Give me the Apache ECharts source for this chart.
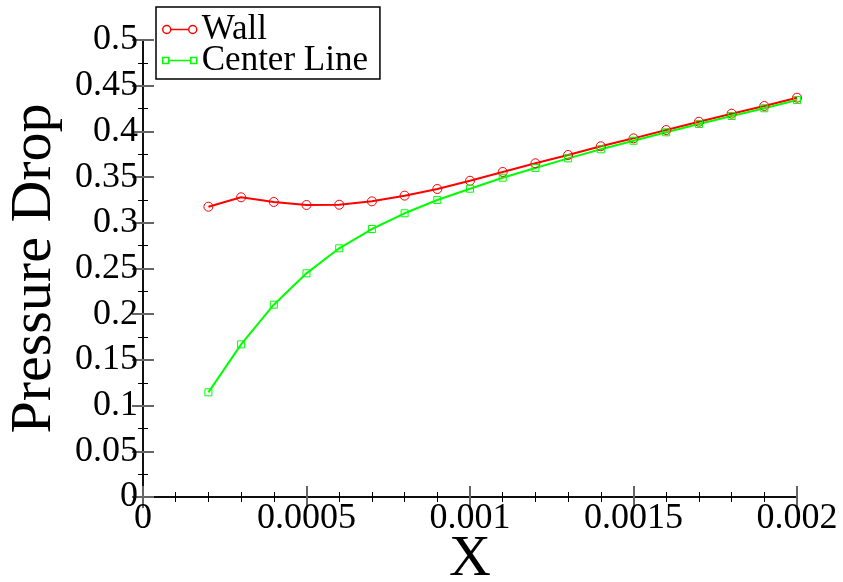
<!DOCTYPE html>
<html>
<head>
<meta charset="utf-8">
<script src="https://cdn.jsdelivr.net/npm/echarts@6/dist/echarts.min.js"></script>
<style>
html, body { margin: 0; padding: 0; background: #fff; }
#chart { width: 843px; height: 582px; }
</style>
</head>
<body>
<div id="chart"></div>
<script>
var xs = [0.0002, 0.0003, 0.0004, 0.0005, 0.0006, 0.0007, 0.0008, 0.0009, 0.0010,
	0.0011, 0.0012, 0.0013, 0.0014, 0.0015, 0.0016, 0.0017, 0.0018, 0.0019, 0.0020];
var wall = [0.3176, 0.3279, 0.3228, 0.3195, 0.3198, 0.3235, 0.3297, 0.337, 0.346,
	0.3556, 0.3651, 0.3742, 0.3837, 0.3924, 0.4015, 0.4106, 0.4194, 0.4278, 0.4369];
var center = [0.1145, 0.167, 0.2104, 0.2447, 0.2721, 0.2932, 0.3104, 0.325, 0.3373,
	0.3493, 0.36, 0.3705, 0.3804, 0.3898, 0.399, 0.4081, 0.4168, 0.4253, 0.4344];

function pairs(a) {
	return xs.map(function(x, i) { return [x, a[i]]; });
}

var font = '"Liberation Serif", "DejaVu Serif", serif';
var tickStyle = { color: '#666', width: 2 };
var minorStyle = { color: '#000', width: 1 };

function frameAxis(extra) {
	var base = {
		type: 'value',
		axisLine: { show: true, lineStyle: { color: '#000', width: 1.5 } },
		axisTick: { show: true, inside: true, length: 11, lineStyle: tickStyle },
		splitLine: { show: false },
		axisLabel: { show: false }
	};
	return Object.assign(base, extra);
}

var chart = echarts.init(document.getElementById('chart'));
chart.setOption({
	animation: false,
	backgroundColor: '#fff',
	textStyle: { fontFamily: font },
	grid: { left: 143, right: 46, top: 40, bottom: 85, outerBoundsMode: 'none', containLabel: false },
	legend: {
		orient: 'vertical',
		left: 156, top: 7,
		padding: [5, 12, 1, 6],
		itemGap: -4,
		itemWidth: 34, itemHeight: 8,
		backgroundColor: '#fff',
		borderColor: '#000', borderWidth: 1.5,
		textStyle: { fontFamily: font, fontSize: 35, color: '#000' },
		data: [
			{ name: 'Wall', icon: 'path://M0,4a4,4 0 1,0 8,0a4,4 0 1,0 -8,0M8,4L26,4M26,4a4,4 0 1,0 8,0a4,4 0 1,0 -8,0',
				itemStyle: { color: 'transparent', borderColor: '#ff0000', borderWidth: 1.5 } },
			{ name: 'Center Line', icon: 'path://M0,1L6,1L6,7L0,7ZM6,4L28,4M28,1L34,1L34,7L28,7Z',
				itemStyle: { color: 'transparent', borderColor: '#00ff00', borderWidth: 1.5 } }
		]
	},
	xAxis: [
		frameAxis({
			min: 0, max: 0.002, interval: 0.0005,
			name: 'X', nameLocation: 'middle', nameGap: 34, nameMoveOverlap: false,
			nameTextStyle: { fontFamily: font, fontSize: 58, color: '#000' },
			minorTick: { show: true, splitNumber: 5, length: 5, lineStyle: minorStyle },
			axisLabel: { show: true, margin: 4, fontFamily: font, fontSize: 36, color: '#000' }
		}),
		frameAxis({
			min: 0, max: 0.002, interval: 0.0005, position: 'top',
			minorTick: { show: true, splitNumber: 5, length: 5, lineStyle: minorStyle }
		})
	],
	yAxis: [
		frameAxis({
			min: 0, max: 0.5, interval: 0.05,
			name: 'Pressure Drop', nameLocation: 'middle', nameGap: 79, nameMoveOverlap: false,
			nameTextStyle: { fontFamily: font, fontSize: 58, color: '#000' },
			minorTick: { show: true, splitNumber: 2, length: 5, lineStyle: minorStyle },
			axisLabel: { show: true, margin: 5, fontFamily: font, fontSize: 36, color: '#000' }
		}),
		frameAxis({
			min: 0, max: 0.5, interval: 0.05, position: 'right',
			minorTick: { show: true, splitNumber: 2, length: 5, lineStyle: minorStyle }
		})
	],
	series: [
		{
			name: 'Wall', type: 'line', data: pairs(wall),
			symbol: 'circle', symbolSize: 9,
			lineStyle: { color: '#ff0000', width: 2 },
			itemStyle: { color: 'transparent', borderColor: '#ff0000', borderWidth: 1 }
		},
		{
			name: 'Center Line', type: 'line', data: pairs(center),
			symbol: 'rect', symbolSize: 7,
			lineStyle: { color: '#00ff00', width: 2 },
			itemStyle: { color: 'transparent', borderColor: '#00ff00', borderWidth: 1 }
		}
	]
});
</script>
</body>
</html>
